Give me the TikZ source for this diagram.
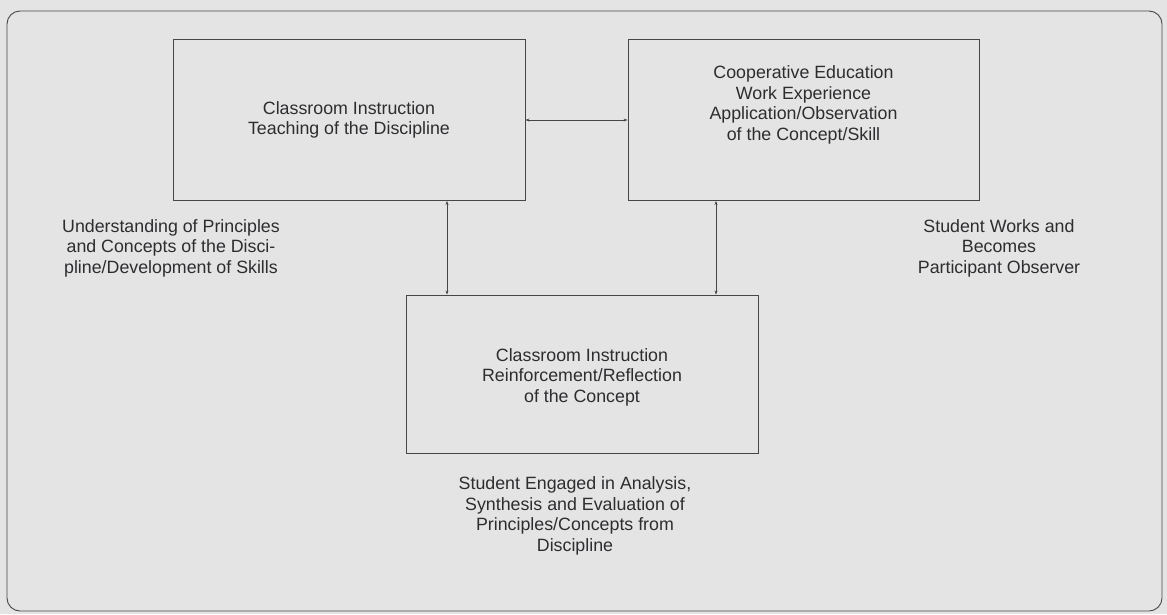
\documentclass[tikz,border=0pt]{standalone}
\usepackage{fontspec}
\setmainfont{Liberation Sans}
\usetikzlibrary{arrows.meta}
\definecolor{paper}{RGB}{229,228,228}
\definecolor{ink}{RGB}{70,70,72}
\definecolor{textink}{RGB}{45,45,48}
\tikzset{
  stagebox/.style={draw=ink, line width=0.9pt, minimum width=352pt, minimum height=161pt, inner sep=0pt},
  label/.style={align=center, text=textink, font=\fontsize{17.8}{20.6}\selectfont, inner sep=0pt},
  link/.style={draw=ink, line width=0.6pt, {Stealth[length=4pt,width=3pt]}-{Stealth[length=4pt,width=3pt]}}
}
\begin{document}
\begin{tikzpicture}[x=1pt,y=-1pt]
  % page
  \fill[paper] (0,0) rectangle (1167,614);
  \useasboundingbox (0,0) rectangle (1167,614);
  % outer frame
  \draw[ink, line width=0.9pt, rounded corners=13pt] (7,11) rectangle (1162,611);

  % stages
  \node[stagebox] (teach) at (349,120) {};
  \node[stagebox, minimum width=351pt] (coop) at (803.5,120) {};
  \node[stagebox, minimum width=352pt, minimum height=158pt] (reflect) at (582,374) {};

  % texts inside the stages
  \node[label] (teachtxt) at (349,120) {Classroom Instruction\\Teaching of the Discipline};
  \node[label] (cooptxt) at (803.5,105) {Cooperative Education\\Work Experience\\Application/Observation\\of the Concept/Skill};
  \node[label] (reflecttxt) at (582,377) {Classroom Instruction\\Reinforcement/Reflection\\of the Concept};

  % side notes
  \node[label] (understand) at (171,248) {Understanding of Principles\\and Concepts of the Disci-\\pline/Development of Skills};
  \node[label] (works) at (999,248) {Student Works and\\Becomes\\Participant Observer};
  \node[label] (engaged) at (575,516) {Student Engaged in Analysis,\\Synthesis and Evaluation of\\Principles/Concepts from\\Discipline};

  % connectors
  \draw[link] (teach.east) -- (coop.west);
  \draw[link] (teach.south -| 447,0) coordinate (t1) -- (reflect.north -| 447,0);
  \draw[link] (coop.south -| 716,0) -- (reflect.north -| 716,0);
\end{tikzpicture}
\end{document}
